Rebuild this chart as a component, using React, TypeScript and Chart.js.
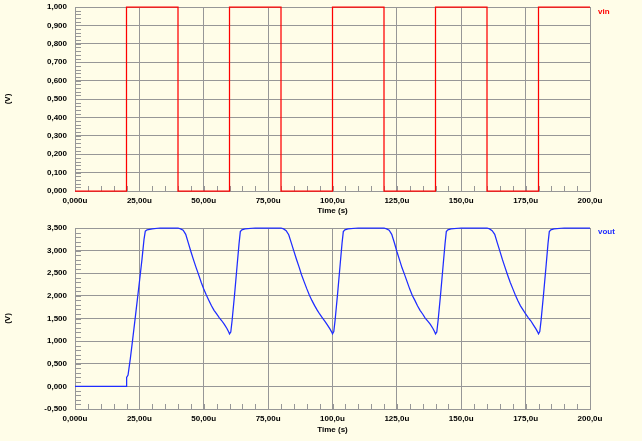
import React, { useEffect, useRef } from "react";
import { Chart, registerables } from "chart.js";

Chart.register(...registerables);

// ---------- data ----------
const xTickLabels = ["0,000u", "25,00u", "50,00u", "75,00u", "100,0u", "125,0u", "150,0u", "175,0u", "200,0u"];
const vinTickLabels = ["0,000", "0,100", "0,200", "0,300", "0,400", "0,500", "0,600", "0,700", "0,800", "0,900", "1,000"];
const voutTickLabels = ["-0,500", "0,000", "0,500", "1,000", "1,500", "2,000", "2,500", "3,000", "3,500"];

const vinTime = [0, 20, 20, 40, 40, 60, 60, 80, 80, 100, 100, 120, 120, 140, 140, 160, 160, 180, 180, 200];
const vinValue = [0, 0, 1, 1, 0, 0, 1, 1, 0, 0, 1, 1, 0, 0, 1, 1, 0, 0, 1, 1];

const voutTime = [
  0, 20, 20.05, 20.6, 21.5, 22.4, 23.5, 25, 26, 26.8, 27.3, 28, 30, 33, 40,
  41, 42, 43, 44, 45, 46, 47, 48, 49, 50, 51, 52, 53, 54, 55, 56, 57, 58, 59, 59.7, 60,
  60.5, 61, 62, 63, 63.7, 64.2, 64.8, 66, 70, 80,
  81, 82, 83, 84, 85, 86, 87, 88, 89, 90, 91, 92, 93, 94, 95, 96, 97, 98, 99, 99.7, 100,
  100.5, 101, 102, 103, 103.7, 104.2, 104.8, 106, 110, 120,
  121, 122, 123, 124, 125, 126, 127, 128, 129, 130, 131, 132, 133, 134, 135, 136, 137, 138, 139, 139.7, 140,
  140.5, 141, 142, 143, 143.7, 144.2, 144.8, 146, 150, 160,
  161, 162, 163, 164, 165, 166, 167, 168, 169, 170, 171, 172, 173, 174, 175, 176, 177, 178, 179, 179.7, 180,
  180.5, 181, 182, 183, 183.7, 184.2, 184.8, 186, 190, 200,
];
const voutValue = [
  0, 0, 0.2, 0.25, 0.62, 1.04, 1.57, 2.3, 2.8, 3.25, 3.43, 3.46, 3.48, 3.5, 3.5,
  3.48, 3.45, 3.36, 3.17, 2.98, 2.8, 2.63, 2.47, 2.3, 2.15, 2.02, 1.9, 1.78, 1.68, 1.6, 1.52, 1.45, 1.37, 1.28, 1.2, 1.16,
  1.2, 1.45, 2.05, 2.7, 3.15, 3.42, 3.46, 3.48, 3.5, 3.5,
  3.48, 3.44, 3.35, 3.17, 2.99, 2.81, 2.64, 2.46, 2.31, 2.16, 2.02, 1.9, 1.79, 1.69, 1.6, 1.52, 1.44, 1.36, 1.27, 1.2, 1.16,
  1.21, 1.46, 2.06, 2.71, 3.16, 3.42, 3.46, 3.48, 3.5, 3.5,
  3.48, 3.45, 3.36, 3.18, 2.98, 2.8, 2.62, 2.47, 2.31, 2.15, 2.01, 1.9, 1.78, 1.68, 1.6, 1.51, 1.44, 1.37, 1.28, 1.2, 1.16,
  1.2, 1.45, 2.05, 2.7, 3.15, 3.42, 3.46, 3.48, 3.5, 3.5,
  3.48, 3.44, 3.36, 3.17, 2.99, 2.8, 2.63, 2.46, 2.3, 2.16, 2.02, 1.89, 1.78, 1.69, 1.6, 1.52, 1.45, 1.36, 1.27, 1.2, 1.16,
  1.21, 1.46, 2.06, 2.7, 3.16, 3.42, 3.46, 3.48, 3.5, 3.5,
];

// ---------- styles ----------
const BG = "#FFFDE8";
const GRID = "#979797";
const FONT_FAMILY = "'Liberation Sans', Arial, sans-serif";
const tickFont = { family: FONT_FAMILY, size: 8, weight: "bold" as const };

const minorTicks = {
  id: "minorTicks",
  beforeDatasetsDraw(chart: any, _args: any, opts: any) {
    const { ctx, chartArea: a, scales } = chart;
    const x = scales.x;
    const y = scales.y;
    ctx.save();
    ctx.strokeStyle = GRID;
    ctx.lineWidth = 1;
    ctx.beginPath();
    const nx = Math.round((x.max - x.min) / opts.xStep);
    for (let i = 0; i <= nx; i++) {
      const px = Math.round(x.getPixelForValue(x.min + i * opts.xStep)) + 0.5;
      ctx.moveTo(px, a.bottom);
      ctx.lineTo(px, a.bottom - opts.xLen);
    }
    const ny = Math.round((y.max - y.min) / opts.yStep);
    for (let i = 0; i <= ny; i++) {
      const py = Math.round(y.getPixelForValue(y.min + i * opts.yStep)) + 0.5;
      ctx.moveTo(a.left, py);
      ctx.lineTo(a.left + opts.yLen, py);
    }
    ctx.stroke();
    ctx.restore();
  },
};

const seriesLabel = {
  id: "seriesLabel",
  afterDraw(chart: any, _args: any, opts: any) {
    const { ctx, chartArea: a } = chart;
    const ds = chart.data.datasets[0];
    ctx.save();
    ctx.fillStyle = ds.borderColor;
    ctx.font = `bold 8px ${FONT_FAMILY}`;
    ctx.textBaseline = "alphabetic";
    ctx.textAlign = "left";
    ctx.fillText(ds.label, a.right + opts.dx, a.top + opts.dy);
    ctx.restore();
  },
};

function makeConfig(p: {
  label: string;
  color: string;
  times: number[];
  values: number[];
  yMin: number;
  yMax: number;
  yStep: number;
  yMinor: number;
  yLabels: string[];
  padTop: number;
  xAxisHeight: number;
  titlePad: number;
  labelDy: number;
}): any {
  return {
    type: "line",
    data: {
      datasets: [
        {
          label: p.label,
          data: p.times.map((t, i) => ({ x: t, y: p.values[i] })),
          borderColor: p.color,
          borderWidth: 1.25,
          pointRadius: 0,
          tension: 0,
          fill: false,
          clip: 2,
        },
      ],
    },
    options: {
      responsive: false,
      animation: false,
      devicePixelRatio: 1,
      layout: { padding: { top: p.padTop, right: 52, left: 0, bottom: 0 } },
      plugins: {
        legend: { display: false },
        tooltip: { enabled: false },
        minorTicks: { xStep: 5, xLen: 5, yStep: p.yMinor, yLen: 6 },
        seriesLabel: { dx: 8, dy: p.labelDy },
      },
      scales: {
        x: {
          type: "linear",
          min: 0,
          max: 200,
          ticks: {
            stepSize: 25,
            padding: 5,
            font: tickFont,
            color: "#000",
            maxRotation: 0,
            autoSkip: false,
            callback: (_v: any, i: number) => xTickLabels[i],
          },
          grid: { color: GRID, drawTicks: false, lineWidth: 1 },
          border: { color: GRID, width: 1 },
          title: {
            display: true,
            text: "Time (s)",
            font: tickFont,
            color: "#000",
            padding: { top: p.titlePad, bottom: p.titlePad },
          },
          afterFit: (s: any) => {
            s.height = p.xAxisHeight;
            s.paddingLeft = 0;
            s.paddingRight = 0;
          },
        },
        y: {
          type: "linear",
          min: p.yMin,
          max: p.yMax,
          ticks: {
            stepSize: p.yStep,
            padding: 8,
            font: tickFont,
            color: "#000",
            autoSkip: false,
            callback: (_v: any, i: number) => p.yLabels[i],
          },
          grid: { color: GRID, drawTicks: false, lineWidth: 1 },
          border: { color: GRID, width: 1 },
          title: {
            display: true,
            text: "(V)",
            font: tickFont,
            color: "#000",
            padding: { top: 3, bottom: 3 },
          },
          afterFit: (s: any) => {
            s.width = 75;
            s.paddingTop = 0;
            s.paddingBottom = 0;
          },
        },
      },
    },
    plugins: [minorTicks, seriesLabel],
  };
}

export default function App() {
  const topRef = useRef<HTMLCanvasElement>(null);
  const botRef = useRef<HTMLCanvasElement>(null);

  useEffect(() => {
    const top = new Chart(
      topRef.current as HTMLCanvasElement,
      makeConfig({
        label: "vin",
        color: "#FF0000",
        times: vinTime,
        values: vinValue,
        yMin: 0,
        yMax: 1,
        yStep: 0.1,
        yMinor: 0.02,
        yLabels: vinTickLabels,
        padTop: 7,
        xAxisHeight: 28,
        titlePad: 3,
        labelDy: 7,
      })
    );
    const bot = new Chart(
      botRef.current as HTMLCanvasElement,
      makeConfig({
        label: "vout",
        color: "#1E2CFF",
        times: voutTime,
        values: voutValue,
        yMin: -0.5,
        yMax: 3.5,
        yStep: 0.5,
        yMinor: 0.1,
        yLabels: voutTickLabels,
        padTop: 9,
        xAxisHeight: 32,
        titlePad: 6,
        labelDy: 6,
      })
    );
    return () => {
      top.destroy();
      bot.destroy();
    };
  }, []);

  return (
    <div
      style={{
        position: "fixed",
        left: 0,
        top: 0,
        width: 642,
        height: 441,
        background: BG,
        overflow: "hidden",
      }}
    >
      <canvas
        ref={topRef}
        width={642}
        height={219}
        style={{ position: "absolute", left: 0, top: 0, width: 642, height: 219 }}
      />
      <canvas
        ref={botRef}
        width={642}
        height={222}
        style={{ position: "absolute", left: 0, top: 219, width: 642, height: 222 }}
      />
    </div>
  );
}
